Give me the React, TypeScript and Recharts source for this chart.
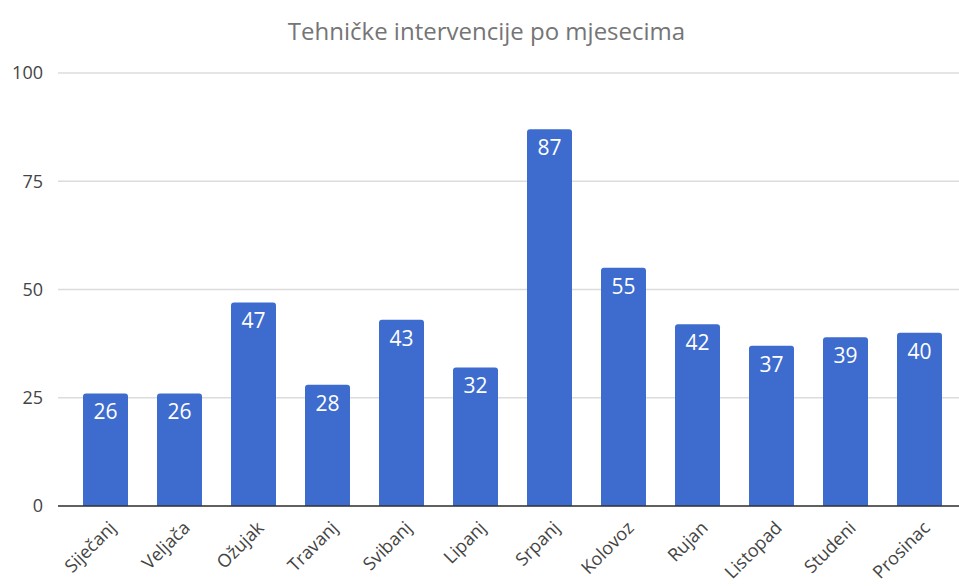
import React from 'react';
import { BarChart, Bar, XAxis, YAxis, CartesianGrid, LabelList } from 'recharts';

/* ── Data ─────────────────────────────────────────────────────────────────── */

const months = [
  'Siječanj', 'Veljača', 'Ožujak', 'Travanj', 'Svibanj', 'Lipanj',
  'Srpanj', 'Kolovoz', 'Rujan', 'Listopad', 'Studeni', 'Prosinac',
];
const interventions = [26, 26, 47, 28, 43, 32, 87, 55, 42, 37, 39, 40];
const yTicks = [0, 25, 50, 75, 100];

const data = months.map((month, i) => ({ month, value: interventions[i] }));

const FONT = '"Open Sans", Roboto, sans-serif';

function MonthTick({ x, y, payload }: { x?: number; y?: number; payload?: { value: string } }) {
  return (
    <g transform={`translate(${(x ?? 0) + 12},${(y ?? 0) + 15})`}>
      <text transform="rotate(-45)" textAnchor="end" fill="#444" fontSize={18} fontFamily={FONT}>
        {payload?.value}
      </text>
    </g>
  );
}

export default function App() {
  return (
    <div
      style={{
        position: 'absolute',
        left: 0,
        top: 0,
        width: 959,
        height: 586,
        background: '#fff',
        fontFamily: FONT,
      }}
    >
      <div
        style={{
          position: 'absolute',
          top: 14,
          left: 14,
          width: 945,
          textAlign: 'center',
          fontSize: 24,
          color: '#757575',
        }}
      >
        Tehničke intervencije po mjesecima
      </div>
      <BarChart
        width={959}
        height={586}
        data={data}
        margin={{ top: 73, right: 0, bottom: 0, left: 0 }}
      >
        <CartesianGrid vertical={false} stroke="#dcdcdc" strokeWidth={1.5} />
        <XAxis
          dataKey="month"
          interval={0}
          height={80}
          padding={{ left: 10, right: 3 }}
          tickLine={false}
          axisLine={{ stroke: '#333', strokeWidth: 1.5 }}
          tick={<MonthTick />}
        />
        <YAxis
          width={58}
          domain={[0, 100]}
          ticks={yTicks}
          tickLine={false}
          axisLine={false}
          tickMargin={9}
          tick={{ fill: '#444', fontSize: 18, fontFamily: FONT }}
        />
        <Bar dataKey="value" fill="#3d6bce" barSize={45} radius={[3, 3, 0, 0]} isAnimationActive={false}>
          <LabelList
            dataKey="value"
            position="insideTop"
            offset={11}
            fill="#fff"
            fontSize={21}
            fontFamily={FONT}
          />
        </Bar>
      </BarChart>
    </div>
  );
}
